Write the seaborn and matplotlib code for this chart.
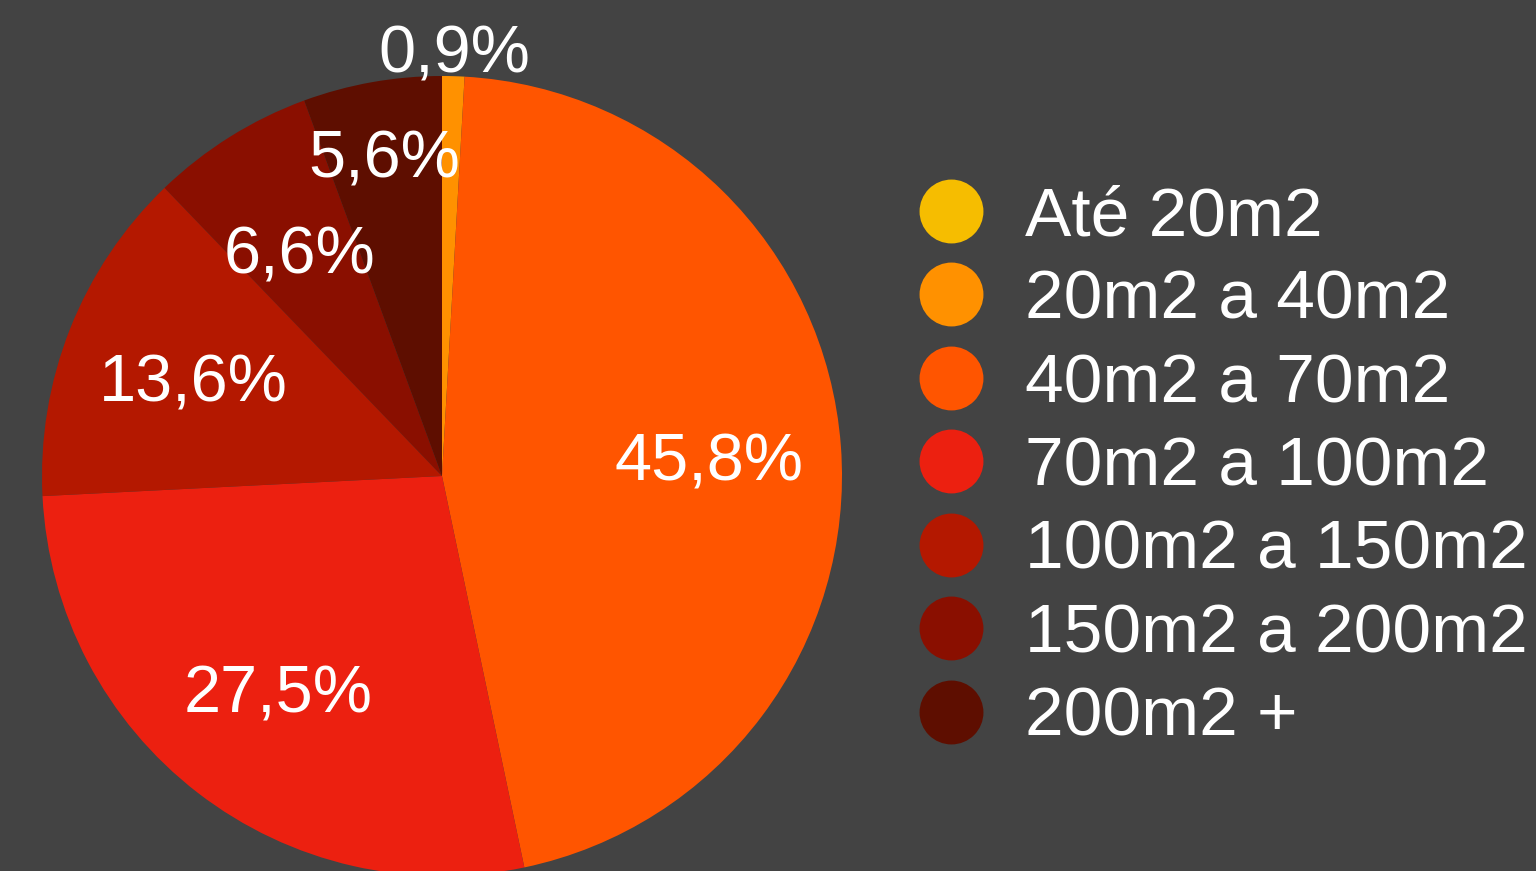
import matplotlib
matplotlib.use("Agg")
import matplotlib.pyplot as plt
from matplotlib.lines import Line2D
import seaborn as sns

# dados: distribuição por área
categorias = ["Até 20m2", "20m2 a 40m2", "40m2 a 70m2", "70m2 a 100m2",
              "100m2 a 150m2", "150m2 a 200m2", "200m2 +"]
valores = [0.0, 0.9, 45.8, 27.5, 13.6, 6.6, 5.6]
cores = ["#F6BD00", "#FF9100", "#FF5500", "#EC2010", "#B41800", "#8A0F00", "#5E0E00"]

fundo = "#434343"
sns.set_theme(style="dark", rc={"figure.facecolor": fundo, "axes.facecolor": fundo,
                                "savefig.facecolor": fundo})
plt.rcParams["font.family"] = ["Liberation Sans", "DejaVu Sans"]

fig = plt.figure(figsize=(15.36, 8.71), dpi=100)
# eixo quadrado em pixels: centro (442, 476), raio 400
ax = fig.add_axes([42 / 1536, (871 - 476 - 400) / 871, 800 / 1536, 800 / 871])


def rotulo(p):
    if p < 0.05:
        return ""
    return f"{p:.1f}".replace(".", ",") + "%"


wedges, textos, pcts = ax.pie(valores, colors=cores, startangle=90, counterclock=False,
                              autopct=rotulo, pctdistance=0.67, radius=1,
                              wedgeprops=dict(linewidth=0),
                              textprops=dict(color="white", fontsize=48))

# fatias pequenas: rótulo mais afastado do centro
ajuste = {1: 1.07 / 0.67, 6: 0.82 / 0.67}
for i, t in enumerate(pcts):
    x, y = t.get_position()
    k = ajuste.get(i, 1.0)
    t.set_position((x * k, y * k - 0.018))

ax.set_xlim(-1, 1)
ax.set_ylim(-1, 1)
ax.axis("off")

handles = [Line2D([0], [0], marker="o", linestyle="", markersize=46,
                  markerfacecolor=c, markeredgewidth=0) for c in cores]
leg = fig.legend(handles, categorias, loc="center left",
                 bbox_to_anchor=(916 / 1536, 1 - 467.5 / 871),
                 frameon=False, fontsize=50, labelcolor="white",
                 handlelength=1.0, handletextpad=0.57, labelspacing=0.28,
                 borderpad=0, borderaxespad=0)

fig.savefig("out.png", dpi=100)
